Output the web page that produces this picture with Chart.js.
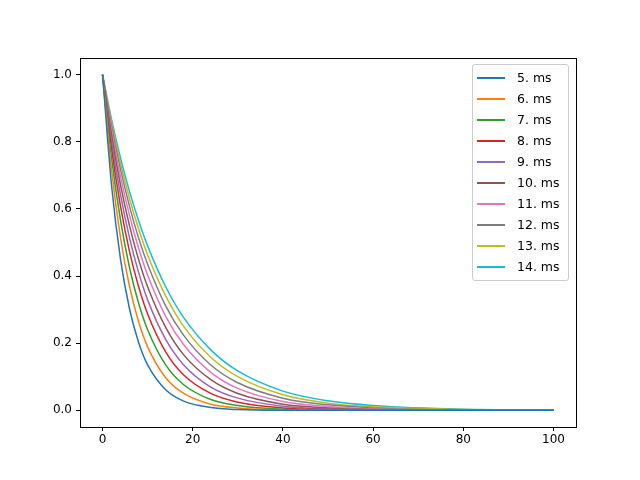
<!DOCTYPE html>
<html><head><meta charset="utf-8">
<script src="https://cdn.jsdelivr.net/npm/chart.js@4"></script>
<style>
body{margin:0;background:#fff;}
#wrap{position:relative;width:640px;height:480px;}
#legend{position:absolute;left:472px;top:64px;width:95px;border:1px solid #ccc;border-radius:3px;background:rgba(255,255,255,0.8);font:12.5px "DejaVu Sans";padding:2px 0 3px 0;}
.row{height:21px;display:flex;align-items:center;}
.ln{width:28px;height:2px;margin-left:4px;margin-right:12px;}
</style></head><body>
<div id="wrap"><canvas id="c" width="640" height="480"></canvas><div id="legend"></div></div>
<script>
const xs = [0,2,4,6,8,10,14,18,24,30,40,50,60,80,100];
const labels = ['5. ms','6. ms','7. ms','8. ms','9. ms','10. ms','11. ms','12. ms','13. ms','14. ms'];
const colors = ['#1f77b4','#ff7f0e','#2ca02c','#d62728','#9467bd','#8c564b','#e377c2','#7f7f7f','#bcbd22','#17becf'];
const s5  = [1,.670,.449,.301,.202,.135,.061,.027,.008,.002,.000,0,0,0,0];
const s6  = [1,.717,.513,.368,.264,.189,.097,.050,.018,.007,.001,0,0,0,0];
const s7  = [1,.751,.565,.424,.319,.240,.135,.076,.032,.014,.003,.001,0,0,0];
const s8  = [1,.779,.607,.472,.368,.287,.174,.105,.050,.024,.007,.002,.001,0,0];
const s9  = [1,.801,.641,.513,.411,.329,.211,.135,.069,.036,.012,.004,.001,0,0];
const s10 = [1,.819,.670,.549,.449,.368,.247,.165,.091,.050,.018,.007,.002,0,0];
const s11 = [1,.834,.695,.580,.483,.403,.280,.195,.113,.065,.026,.011,.004,.001,0];
const s12 = [1,.846,.717,.607,.513,.435,.311,.223,.135,.082,.036,.016,.007,.001,0];
const s13 = [1,.857,.735,.630,.540,.463,.341,.250,.158,.100,.046,.021,.010,.002,0];
const s14 = [1,.867,.751,.651,.565,.490,.368,.276,.180,.117,.057,.028,.014,.003,.001];
const series = [s5,s6,s7,s8,s9,s10,s11,s12,s13,s14];

const datasets = series.map((s,i)=>({label:labels[i],data:s.map((y,j)=>({x:xs[j],y})),borderColor:colors[i],borderWidth:1.5,pointRadius:0,fill:false,cubicInterpolationMode:'monotone'}));
const frame={id:'frame',afterDraw(c){const a=c.chartArea,g=c.ctx;g.save();g.strokeStyle='#000';g.lineWidth=1;g.strokeRect(a.left+0.5,a.top+0.5,a.right-a.left,a.bottom-a.top);g.restore();}};
const font={family:'DejaVu Sans',size:12};
new Chart(document.getElementById('c'),{type:'line',data:{datasets},plugins:[frame],
options:{responsive:false,animation:false,layout:{padding:{left:0,top:58,right:64,bottom:0}},
plugins:{legend:{display:false},tooltip:{enabled:false}},
scales:{
x:{type:'linear',min:-5,max:105,afterBuildTicks(s){s.ticks=[0,20,40,60,80,100].map(v=>({value:v}));},afterFit(s){s.height=53;},
 ticks:{color:'#000',font,padding:2,maxRotation:0},grid:{drawOnChartArea:false,tickLength:4,color:'#000'},border:{color:'#000'}},
y:{min:-0.05,max:1.05,afterBuildTicks(s){s.ticks=[0,0.2,0.4,0.6,0.8,1.0].map(v=>({value:v}));},afterFit(s){s.width=80;},
 ticks:{color:'#000',font,padding:4,callback:v=>v.toFixed(1)},grid:{drawOnChartArea:false,tickLength:4,color:'#000'},border:{color:'#000'}}
}}});
const lg=document.getElementById('legend');
labels.forEach((l,i)=>{const r=document.createElement('div');r.className='row';r.innerHTML='<span class="ln" style="background:'+colors[i]+'"></span><span>'+l+'</span>';lg.appendChild(r);});
</script></body></html>
